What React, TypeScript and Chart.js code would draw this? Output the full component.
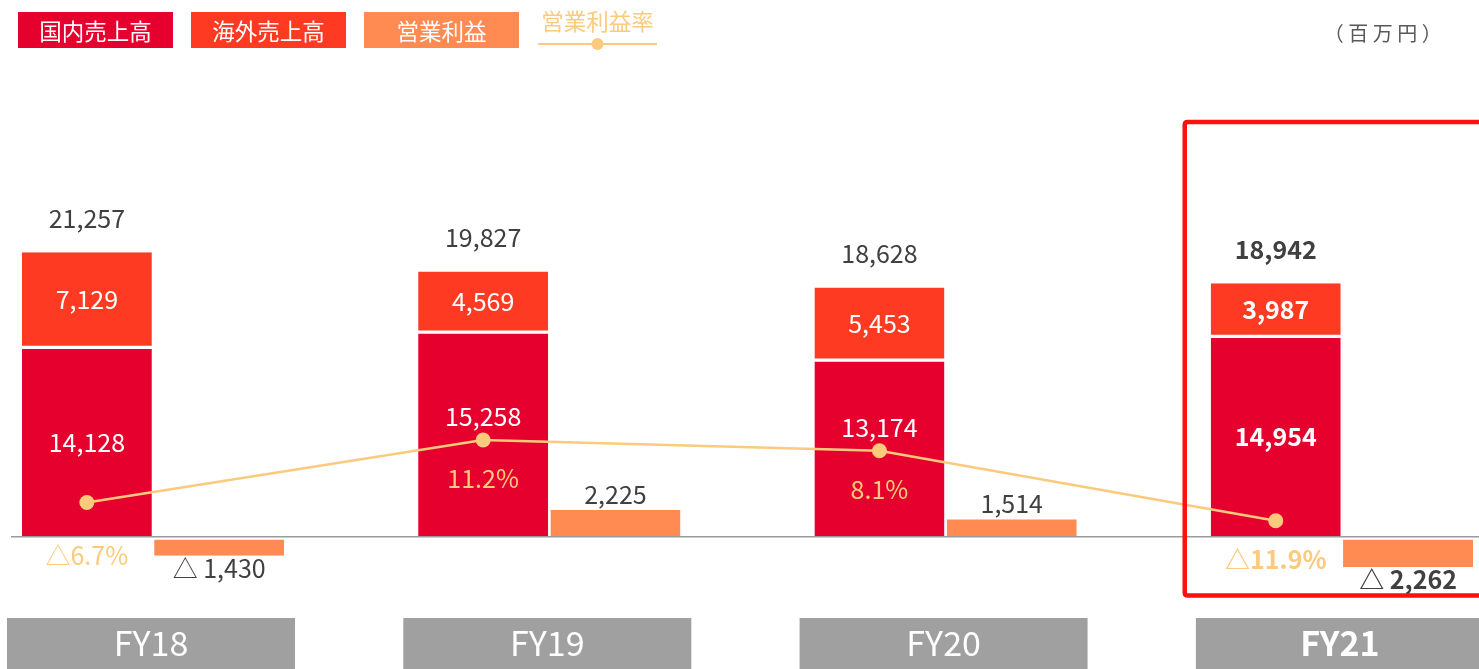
import React, { useEffect, useRef } from 'react';
import { Chart, registerables } from 'chart.js';

Chart.register(...registerables);

// ---------------- data ----------------
const categories = ['FY18', 'FY19', 'FY20', 'FY21'];
const domesticSales = [14128, 15258, 13174, 14954];
const overseasSales = [7129, 4569, 5453, 3987];
const totalSales = [21257, 19827, 18628, 18942];
const operatingProfit = [-1430, 2225, 1514, -2262];
const operatingMargin = [-6.7, 11.2, 8.1, -11.9];
const highlightIndex = 3;
const legendLabels = ['国内売上高', '海外売上高', '営業利益', '営業利益率'];
const unitLabel = '（百万円）';

// ---------------- styles ----------------
const C_DOMESTIC = '#E6002D';
const C_OVERSEAS = '#FF3A22';
const C_PROFIT = '#FF8A52';
const C_MARGIN = '#FBCA7D';
const C_TEXT = '#404040';
const C_BOX = '#A0A0A1';
const FONT = '"Noto Sans CJK JP", "Noto Sans", sans-serif';
const font = (size: number, bold = false) => `${bold ? 'bold ' : ''}${size}px ${FONT}`;

const CAT_PCT = 0.6677;
const BAR_PCT = 0.9826;
const LINE_OFFSET = CAT_PCT / 4; // centre of first stack slot

const W = 1479;
const H = 669;

const fmt = (v: number) => (v < 0 ? '△ ' : '') + Math.abs(v).toLocaleString('en-US');
const fmtPct = (v: number) => (v < 0 ? '△' : '') + Math.abs(v).toFixed(1) + '%';

const overlayPlugin = {
  id: 'overlay',
  afterDatasetsDraw(chart: any) {
    const ctx = chart.ctx;
    const y0 = chart.scales.y.getPixelForValue(0);
    ctx.save();
    ctx.strokeStyle = '#9b9b9b';
    ctx.lineWidth = 1.6;
    ctx.beginPath();
    ctx.moveTo(11, y0);
    ctx.lineTo(chart.width, y0);
    ctx.stroke();
    ctx.restore();
  },
  afterDraw(chart: any) {
    const ctx = chart.ctx;
    const m0 = chart.getDatasetMeta(0).data;
    const m1 = chart.getDatasetMeta(1).data;
    const m2 = chart.getDatasetMeta(2).data;
    const m3 = chart.getDatasetMeta(3).data;
    ctx.save();
    ctx.textAlign = 'center';
    ctx.textBaseline = 'middle';

    categories.forEach((cat, i) => {
      const bold = i === highlightIndex;
      const d = m0[i];
      const o = m1[i];
      const p = m2[i];
      const pt = m3[i];
      // total
      ctx.fillStyle = C_TEXT;
      ctx.font = font(25, bold);
      ctx.fillText(totalSales[i].toLocaleString('en-US'), o.x, o.y - 33.5);
      // overseas
      ctx.fillStyle = '#FFFFFF';
      ctx.fillText(overseasSales[i].toLocaleString('en-US'), o.x, (o.y + o.base) / 2);
      // domestic
      const dy = operatingMargin[i] >= 0 ? pt.y - 23 : (d.y + d.base) / 2;
      ctx.fillText(domesticSales[i].toLocaleString('en-US'), d.x, dy);
      // margin
      ctx.fillStyle = C_MARGIN;
      const my = operatingMargin[i] >= 0 ? pt.y + 39 : Math.max(pt.y + 39, d.base + 19);
      ctx.fillText(fmtPct(operatingMargin[i]), d.x, my);
      // profit
      ctx.fillStyle = C_TEXT;
      const py = operatingProfit[i] >= 0 ? p.y - 12.5 : p.y + 12.5;
      ctx.fillText(fmt(operatingProfit[i]), p.x, py);

      // category box
      const cx = (d.x + p.x) / 2 - 2;
      ctx.fillStyle = C_BOX;
      ctx.fillRect(cx - 144, 618, 288, 60);
      ctx.fillStyle = '#FFFFFF';
      ctx.font = font(34, bold);
      ctx.fillText(cat, cx, 643);
    });

    // highlight frame
    const hd = m0[highlightIndex];
    const left = hd.x - hd.width / 2 - 26;
    ctx.strokeStyle = '#FF1010';
    ctx.lineWidth = 4.5;
    ctx.beginPath();
    ctx.moveTo(W + 10, 122);
    ctx.lineTo(left + 3, 122);
    ctx.quadraticCurveTo(left, 122, left, 125);
    ctx.lineTo(left, 592.5);
    ctx.quadraticCurveTo(left, 595.5, left + 3, 595.5);
    ctx.lineTo(W + 10, 595.5);
    ctx.stroke();

    // legend
    const boxColors = [C_DOMESTIC, C_OVERSEAS, C_PROFIT];
    const boxX = [18, 191, 364];
    ctx.font = font(22.5);
    boxColors.forEach((c, k) => {
      ctx.fillStyle = c;
      ctx.fillRect(boxX[k], 12, 155, 36);
      ctx.fillStyle = '#FFFFFF';
      ctx.fillText(legendLabels[k], boxX[k] + 77.5, 31);
    });
    ctx.fillStyle = C_MARGIN;
    ctx.fillText(legendLabels[3], 597.5, 21);
    ctx.strokeStyle = C_MARGIN;
    ctx.lineWidth = 2;
    ctx.beginPath();
    ctx.moveTo(538, 44);
    ctx.lineTo(657, 44);
    ctx.stroke();
    ctx.beginPath();
    ctx.arc(597.5, 44, 6, 0, Math.PI * 2);
    ctx.fill();

    // unit
    ctx.fillStyle = '#595959';
    ctx.font = font(20);
    (ctx as any).letterSpacing = '4.5px';
    ctx.fillText(unitLabel, 1385, 33);
    (ctx as any).letterSpacing = '0px';

    ctx.restore();
  },
};

export default function App() {
  const ref = useRef<HTMLCanvasElement | null>(null);
  useEffect(() => {
    if (!ref.current) return;
    const chart = new Chart(ref.current, {
      type: 'bar',
      data: {
        datasets: [
          {
            type: 'bar',
            label: legendLabels[0],
            data: domesticSales.map((v, i) => ({ x: i, y: v })),
            backgroundColor: C_DOMESTIC,
            borderColor: '#FFFFFF',
            borderWidth: { top: 1.3, bottom: 0, left: 0, right: 0 },
            borderSkipped: false,
            stack: 'sales',
            yAxisID: 'y',
            order: 2,
          },
          {
            type: 'bar',
            label: legendLabels[1],
            data: overseasSales.map((v, i) => ({ x: i, y: v })),
            backgroundColor: C_OVERSEAS,
            borderColor: '#FFFFFF',
            borderWidth: { top: 0, bottom: 2, left: 0, right: 0 },
            borderSkipped: false,
            stack: 'sales',
            yAxisID: 'y',
            order: 2,
          },
          {
            type: 'bar',
            label: legendLabels[2],
            data: operatingProfit.map((v, i) => ({ x: i, y: v })),
            backgroundColor: C_PROFIT,
            borderColor: '#FFFFFF',
            borderWidth: { top: 3, bottom: 0, left: 0, right: 0 },
            borderSkipped: false,
            stack: 'profit',
            yAxisID: 'y',
            order: 2,
          },
          {
            type: 'line',
            label: legendLabels[3],
            data: operatingMargin.map((v, i) => ({ x: i - LINE_OFFSET, y: v })),
            borderColor: C_MARGIN,
            backgroundColor: C_MARGIN,
            borderWidth: 2.5,
            pointRadius: 7.5,
            pointHoverRadius: 7.5,
            pointBorderWidth: 0,
            yAxisID: 'y2',
            order: 1,
          },
        ] as any,
      },
      options: {
        animation: false,
        responsive: false,
        events: [],
        layout: { padding: 0, autoPadding: false },
        datasets: {
          bar: { categoryPercentage: CAT_PCT, barPercentage: BAR_PCT, grouped: true },
        },
        plugins: { legend: { display: false }, tooltip: { enabled: false }, title: { display: false } },
        scales: {
          x: {
            type: 'linear',
            display: false,
            offset: false,
            min: -0.3861,
            max: 3.346,
            afterBuildTicks: (scale: any) => {
              scale.ticks = categories.map((_, i) => ({ value: i }));
            },
          },
          y: { type: 'linear', display: false, stacked: true, min: -9889, max: 40115 },
          y2: { type: 'linear', display: false, min: -54.35, max: 137.12 },
        },
      } as any,
      plugins: [overlayPlugin],
    });
    return () => chart.destroy();
  }, []);

  return (
    <div style={{ position: 'absolute', left: 0, top: 0, width: W, height: H, background: '#fff', overflow: 'hidden' }}>
      <canvas ref={ref} width={W} height={H} style={{ display: 'block', width: W, height: H }} />
    </div>
  );
}
